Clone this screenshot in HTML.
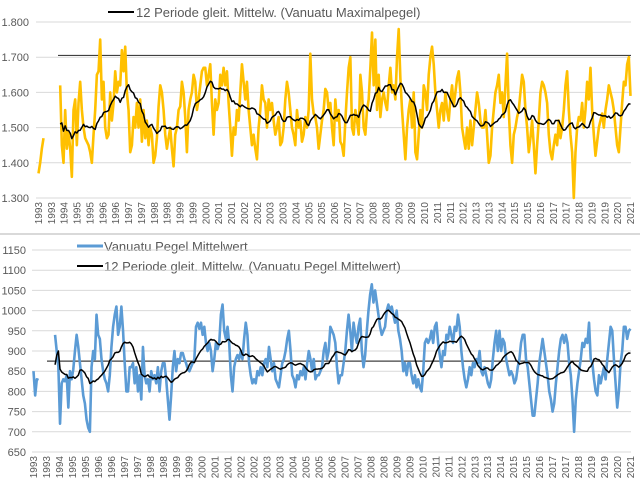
<!DOCTYPE html>
<html><head><meta charset="utf-8">
<style>
body{margin:0;background:#fff;}
svg{display:block;font-family:"Liberation Sans",sans-serif;}
</style></head>
<body>
<svg id="c" width="640" height="486" viewBox="0 0 640 486" xmlns="http://www.w3.org/2000/svg">
<rect x="0" y="0" width="640" height="486" fill="#fff"/>
<line x1="0" y1="234" x2="640" y2="234" stroke="#d9d9d9" stroke-width="2"/>
<g>
<line x1="108" y1="12" x2="134" y2="12" stroke="#000" stroke-width="2"/>
<text x="136" y="17" font-size="13" fill="#595959">12 Periode gleit. Mittelw. (Vanuatu Maximalpegel)</text>
</g>
<g>
<line x1="77" y1="246" x2="103" y2="246" stroke="#5B9BD5" stroke-width="3"/>
<text x="104" y="251" font-size="13" fill="#595959">Vanuatu Pegel Mittelwert</text>
<line x1="77" y1="266" x2="103" y2="266" stroke="#000" stroke-width="2"/>
<text x="104" y="271" font-size="13" fill="#595959">12 Periode gleit. Mittelw. (Vanuatu Pegel Mittelwert)</text>
</g>
</svg>
<script>
const xLabels=["1993","1993","1994","1995","1995","1996","1996","1997","1997","1998","1998","1999","1999","2000","2001","2001","2002","2002","2003","2003","2004","2005","2005","2006","2007","2007","2008","2008","2009","2009","2010","2011","2011","2012","2013","2013","2014","2015","2015","2016","2017","2017","2018","2019","2019","2020","2021"];
const topTicks=[1.3,1.4,1.5,1.6,1.7,1.8];
const bottomTicks=[650,700,750,800,850,900,950,1000,1050,1100,1150];
const topRef=1.705;
const bottomRef=875;
const N_=null;
const topMax=[1.37,1.40,1.44,1.47,N_,N_,N_,N_,N_,N_,N_,N_,N_,
1.62,1.45,1.40,1.55,1.44,1.49,1.44,1.36,1.55,1.58,1.45,1.57,1.63,1.55,1.50,1.47,1.46,1.45,1.43,1.40,1.48,1.55,1.65,1.66,1.75,1.58,1.63,1.50,1.47,1.48,1.60,1.52,1.57,1.66,1.60,1.63,1.62,1.72,1.66,1.73,1.60,1.55,1.43,1.45,1.53,1.50,1.57,1.50,1.58,1.46,1.55,1.47,1.52,1.45,1.50,1.48,1.40,1.42,1.47,1.56,1.62,1.60,1.55,1.48,1.44,1.47,1.50,1.44,1.39,1.48,1.50,1.55,1.56,
1.63,1.60,1.53,1.43,1.55,1.58,1.60,1.65,1.63,1.55,1.58,1.62,1.66,1.67,1.67,1.62,1.65,1.68,1.57,1.48,1.58,1.55,1.57,1.65,1.62,1.67,1.62,1.66,1.57,1.50,1.42,1.50,1.48,1.55,1.52,1.60,1.68,1.63,1.58,1.63,1.55,1.50,1.45,1.48,1.44,1.41,1.50,1.55,1.62,1.58,1.57,1.50,1.58,1.55,1.57,1.52,1.48,1.50,1.53,1.45,1.46,1.50,1.58,1.63,1.60,1.55,1.50,1.48,1.45,1.55,1.50,1.52,1.46,1.48,1.53,1.50,1.55,1.71,1.58,1.54,1.53,1.50,1.44,1.48,1.52,1.55,1.61,1.60,1.55,1.57,
1.50,1.45,1.58,1.52,1.55,1.46,1.45,1.42,1.52,1.60,1.67,1.70,1.50,1.48,1.55,1.52,1.48,1.65,1.60,1.50,1.48,1.55,1.58,1.67,1.77,1.62,1.75,1.55,1.65,1.53,1.58,1.60,1.57,1.55,1.62,1.67,1.60,1.62,1.58,1.70,1.78,1.64,1.55,1.48,1.41,1.50,1.55,1.58,1.50,1.60,1.43,1.41,1.48,1.55,1.50,1.62,1.60,1.55,1.65,1.70,1.73,1.68,1.60,1.55,1.50,1.55,1.57,1.52,1.60,1.55,1.52,1.58,1.62,1.56,1.60,1.64,1.66,1.60,1.50,1.47,1.44,1.50,1.44,1.52,1.45,1.50,1.55,1.60,1.57,1.52,1.50,
1.50,1.55,1.48,1.40,1.42,1.50,1.55,1.60,1.62,1.65,1.57,1.60,1.53,1.62,1.71,1.55,1.45,1.40,1.48,1.50,1.53,1.55,1.60,1.65,1.63,1.55,1.50,1.43,1.47,1.52,1.45,1.37,1.45,1.52,1.60,1.63,1.62,1.60,1.57,1.48,1.43,1.41,1.45,1.48,1.45,1.52,1.47,1.50,1.55,1.62,1.66,1.55,1.48,1.43,1.30,1.43,1.50,1.53,1.52,1.57,1.50,1.55,1.63,1.58,1.67,1.55,1.48,1.42,1.46,1.50,1.52,1.54,1.50,1.55,1.58,1.62,1.60,1.58,1.55,1.50,1.45,1.43,1.50,1.57,1.63,1.62,1.68,1.70,1.59];
const pegelMean=[850,790,830,828,N_,N_,N_,N_,N_,N_,N_,N_,N_,
940,900,860,720,820,830,825,840,760,850,830,855,900,940,910,870,830,790,770,730,710,700,860,900,880,990,940,930,880,850,830,820,800,840,910,960,990,1010,940,960,1010,950,870,800,800,860,860,870,820,860,800,840,780,910,840,820,830,800,850,830,840,820,860,800,850,870,870,830,780,730,790,860,900,850,880,870,895,895,
880,870,855,850,860,870,880,960,970,955,970,940,960,920,900,920,900,850,880,920,905,920,990,1015,950,930,960,920,840,800,860,880,890,880,900,880,930,970,940,870,840,820,830,820,850,840,860,840,870,880,860,910,880,850,870,830,820,810,840,870,880,900,930,950,900,840,830,810,840,830,850,840,860,830,870,900,880,850,880,830,840,840,850,860,900,920,880,900,960,950,
940,920,860,820,840,840,870,900,950,990,950,900,970,940,920,960,980,900,860,890,950,1000,1040,1065,1020,1050,1020,990,960,940,950,960,1000,1015,1000,1010,990,970,1000,950,930,900,850,870,840,870,870,840,820,840,810,830,810,800,850,920,930,920,930,950,920,960,970,920,890,860,900,890,940,930,960,940,920,960,950,990,960,900,860,830,810,830,860,840,870,860,880,870,900,850,840,
860,840,820,810,830,880,920,950,900,950,900,930,920,880,860,840,850,840,820,830,860,880,920,940,940,880,860,820,780,740,740,780,820,870,900,930,900,870,840,800,780,750,770,820,860,900,930,940,920,940,920,870,840,780,700,780,820,850,880,920,910,930,920,970,880,870,830,800,790,840,820,840,860,830,880,920,960,950,880,820,760,800,870,900,960,960,930,950,955];

const svg=document.getElementById('c');
const NS='http://www.w3.org/2000/svg';
function mk(tag,attrs,parent){const e=document.createElementNS(NS,tag);for(const k in attrs)e.setAttribute(k,attrs[k]);(parent||svg).appendChild(e);return e;}
function movingAvg(arr,w){const out=[];for(let i=0;i<arr.length;i++){if(i<13){out.push(null);continue;}let s=0,c=0;for(let j=i-w+1;j<=i;j++){if(j>=0&&arr[j]!==null){s+=arr[j];c++;}}out.push(c?s/c:null);}return out;}
function pathFor(arr,xs,ys){let d='',pen=false;arr.forEach((v,i)=>{if(v===null){pen=false;return;}d+=(pen?'L':'M')+xs(i).toFixed(2)+','+ys(v).toFixed(2);pen=true;});return d;}

function drawChart(o){
  const g=mk('g',{});
  
  
  const ys=v=>o.yBot-(v-o.ticks[0])/(o.ticks[o.ticks.length-1]-o.ticks[0])*(o.yBot-o.yTop);
  const n=o.data.length;
  const xs=i=>o.x0+i*(o.x1-o.x0)/(n-1);
  o.ticks.forEach(t=>{
    const gl=mk('line',{x1:o.gx0,x2:631,y1:ys(t),y2:ys(t),stroke:'#d9d9d9','stroke-width':1},g);
    
    
    const tl=mk('text',{x:o.labX,y:ys(t)+4,'text-anchor':'end','font-size':11,fill:'#595959'},g);
    
    
    tl.textContent=o.fmt(t);
  });
  const rl=mk('line',{x1:o.refX,x2:631,y1:ys(o.ref),y2:ys(o.ref),stroke:'#404040','stroke-width':1.2},g);
  
  
  const L=xLabels.length;
  xLabels.forEach((lab,k)=>{
    const x=o.x0+k*(o.x1-o.x0)/(L-1)+3.5;
    const t=mk('text',{x:0,y:0,transform:`translate(${x.toFixed(1)},${o.yBot+4}) rotate(-90)`,'text-anchor':'end','font-size':10,fill:'#595959'},g);
    
    
    t.textContent=lab;
  });
  const p=mk('path',{d:pathFor(o.data,xs,ys),fill:'none',stroke:o.color,'stroke-width':2.6,'stroke-linejoin':'round'},g);
  
  
  const ma=movingAvg(o.data,12);
  const m=mk('path',{d:pathFor(ma,xs,ys),fill:'none',stroke:'#000','stroke-width':1.5,'stroke-linejoin':'round'},g);
  
  
}
drawChart({name:'max-level-chart',data:topMax,ticks:topTicks,yTop:22,yBot:198,x0:38.5,x1:630.5,gx0:36,labX:29,ref:topRef,refX:58,color:'#FFC000',seriesName:'max-level-series',fmt:t=>t.toFixed(3)});
drawChart({name:'mean-level-chart',data:pegelMean,ticks:bottomTicks,yTop:250,yBot:452,x0:33.5,x1:630.5,gx0:32,labX:26,ref:bottomRef,refX:47,color:'#5B9BD5',seriesName:'mean-level-series',fmt:t=>String(t)});
</script>
</body></html>
